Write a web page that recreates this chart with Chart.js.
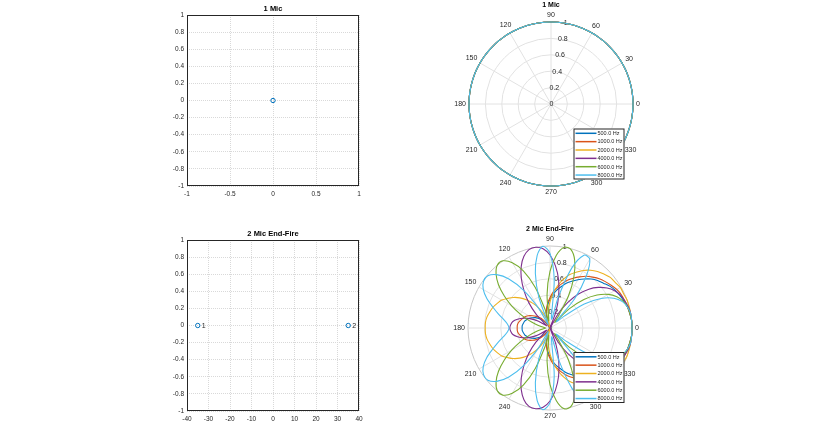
<!DOCTYPE html>
<html>
<head>
<meta charset="utf-8">
<script src="https://cdn.jsdelivr.net/npm/chart.js@4.4.1/dist/chart.umd.min.js"></script>
<style>
  html, body { margin: 0; padding: 0; background: #fff; }
  body { width: 814px; height: 434px; position: relative; overflow: hidden; }
  canvas { position: absolute; }
</style>
</head>
<body>
<canvas id="posOne" style="left:150px;top:0px" width="220" height="205"></canvas>
<canvas id="posTwo" style="left:150px;top:225px" width="220" height="205"></canvas>
<canvas id="polarOne" style="left:440px;top:0px" width="212" height="212"></canvas>
<canvas id="polarTwo" style="left:440px;top:222px" width="212" height="212"></canvas>
<script>
const TEXT = '#262626';
const GRID = '#e2e2e2';
const FONT = '"Liberation Sans", Arial, sans-serif';

// microphone positions (mm)
const mic1X = [0];
const mic1Y = [0];
const mic2X = [-35, 35];
const mic2Y = [0, 0];
const mic2Names = ['1', '2'];

const freqLabels = ['500.0 Hz', '1000.0 Hz', '2000.0 Hz', '4000.0 Hz', '6000.0 Hz', '8000.0 Hz'];
const freqColors = ['#0072BD', '#D95319', '#EDB120', '#7E2F8E', '#77AC30', '#4DBEEE'];

const rTicks = [0, 0.2, 0.4, 0.6, 0.8, 1];
const thetaTicks = [0, 30, 60, 90, 120, 150, 180, 210, 240, 270, 300, 330];

// polar angles (deg) of the pattern samples
const thetaDeg = [0, 5, 10, 15, 20, 25, 30, 35, 40, 45, 50, 55, 60, 65, 70, 75, 80, 85,
  90, 95, 100, 105, 110, 115, 120, 125, 130, 135, 140, 145, 150, 155, 160, 165, 170, 175,
  180, 185, 190, 195, 200, 205, 210, 215, 220, 225, 230, 235, 240, 245, 250, 255, 260, 265,
  270, 275, 280, 285, 290, 295, 300, 305, 310, 315, 320, 325, 330, 335, 340, 345, 350, 355];

// single mic: omni, same for every frequency
const oneMicR = [1, 1, 1, 1, 1, 1, 1, 1, 1, 1, 1, 1, 1, 1, 1, 1, 1, 1,
  1, 1, 1, 1, 1, 1, 1, 1, 1, 1, 1, 1, 1, 1, 1, 1, 1, 1,
  1, 1, 1, 1, 1, 1, 1, 1, 1, 1, 1, 1, 1, 1, 1, 1, 1, 1,
  1, 1, 1, 1, 1, 1, 1, 1, 1, 1, 1, 1, 1, 1, 1, 1, 1, 1];

// end-fire pair, magnitude per angle
const ef500 = [1.00, 1.00, 0.99, 0.98, 0.96, 0.94, 0.92, 0.89, 0.85, 0.82, 0.78, 0.73, 0.68, 0.63, 0.58, 0.52, 0.47, 0.41,
  0.35, 0.29, 0.23, 0.17, 0.11, 0.06, 0.00, 0.05, 0.09, 0.14, 0.18, 0.22, 0.25, 0.28, 0.30, 0.32, 0.33, 0.34,
  0.34, 0.34, 0.33, 0.32, 0.30, 0.28, 0.25, 0.22, 0.18, 0.14, 0.09, 0.05, 0.00, 0.06, 0.11, 0.17, 0.23, 0.29,
  0.35, 0.41, 0.47, 0.52, 0.58, 0.63, 0.68, 0.73, 0.78, 0.82, 0.85, 0.89, 0.92, 0.94, 0.96, 0.98, 0.99, 1.00];
const ef1000 = [1.00, 1.00, 0.99, 0.98, 0.97, 0.96, 0.94, 0.91, 0.88, 0.85, 0.81, 0.77, 0.72, 0.67, 0.62, 0.56, 0.50, 0.44,
  0.37, 0.31, 0.24, 0.18, 0.11, 0.05, 0.01, 0.07, 0.13, 0.18, 0.22, 0.26, 0.30, 0.33, 0.35, 0.37, 0.39, 0.40,
  0.40, 0.40, 0.39, 0.37, 0.35, 0.33, 0.30, 0.26, 0.22, 0.18, 0.13, 0.07, 0.01, 0.05, 0.11, 0.18, 0.24, 0.31,
  0.37, 0.44, 0.50, 0.56, 0.62, 0.67, 0.72, 0.77, 0.81, 0.85, 0.88, 0.91, 0.94, 0.96, 0.97, 0.98, 0.99, 1.00];
const ef2000 = [1.00, 1.00, 1.00, 1.00, 1.00, 0.99, 0.99, 0.97, 0.96, 0.93, 0.90, 0.86, 0.81, 0.75, 0.69, 0.61, 0.52, 0.42,
  0.32, 0.22, 0.12, 0.01, 0.09, 0.19, 0.29, 0.37, 0.45, 0.52, 0.58, 0.63, 0.68, 0.71, 0.74, 0.76, 0.78, 0.79,
  0.79, 0.79, 0.78, 0.76, 0.74, 0.71, 0.68, 0.63, 0.58, 0.52, 0.45, 0.37, 0.29, 0.19, 0.09, 0.01, 0.12, 0.22,
  0.32, 0.42, 0.52, 0.61, 0.69, 0.75, 0.81, 0.86, 0.90, 0.93, 0.96, 0.97, 0.99, 0.99, 1.00, 1.00, 1.00, 1.00];
const ef4000 = [1.00, 1.00, 1.00, 0.99, 0.97, 0.95, 0.91, 0.85, 0.77, 0.67, 0.54, 0.38, 0.20, 0.00, 0.21, 0.41, 0.60, 0.76,
  0.89, 0.97, 1.00, 0.99, 0.93, 0.83, 0.70, 0.55, 0.40, 0.24, 0.09, 0.05, 0.17, 0.27, 0.35, 0.41, 0.46, 0.48,
  0.49, 0.48, 0.46, 0.41, 0.35, 0.27, 0.17, 0.05, 0.09, 0.24, 0.40, 0.55, 0.70, 0.83, 0.93, 0.99, 1.00, 0.97,
  0.89, 0.76, 0.60, 0.41, 0.21, 0.00, 0.20, 0.38, 0.54, 0.67, 0.77, 0.85, 0.91, 0.95, 0.97, 0.99, 1.00, 1.00];
const ef6000 = [1.00, 1.00, 0.99, 0.98, 0.95, 0.90, 0.82, 0.70, 0.54, 0.33, 0.09, 0.18, 0.45, 0.69, 0.88, 0.99, 1.00, 0.89,
  0.69, 0.41, 0.09, 0.24, 0.53, 0.77, 0.92, 1.00, 1.00, 0.93, 0.82, 0.68, 0.54, 0.40, 0.28, 0.18, 0.11, 0.07,
  0.05, 0.07, 0.11, 0.18, 0.28, 0.40, 0.54, 0.68, 0.82, 0.93, 1.00, 1.00, 0.92, 0.77, 0.53, 0.24, 0.09, 0.41,
  0.69, 0.89, 1.00, 0.99, 0.88, 0.69, 0.45, 0.18, 0.09, 0.33, 0.54, 0.70, 0.82, 0.90, 0.95, 0.98, 0.99, 1.00];
const ef8000 = [1.00, 1.00, 1.00, 0.98, 0.94, 0.86, 0.72, 0.51, 0.22, 0.11, 0.47, 0.77, 0.97, 0.98, 0.78, 0.39, 0.11, 0.59,
  0.91, 1.00, 0.90, 0.69, 0.40, 0.05, 0.28, 0.56, 0.78, 0.92, 0.99, 0.99, 0.94, 0.85, 0.74, 0.65, 0.57, 0.52,
  0.50, 0.52, 0.57, 0.65, 0.74, 0.85, 0.94, 0.99, 0.99, 0.92, 0.78, 0.56, 0.28, 0.05, 0.40, 0.69, 0.90, 1.00,
  0.91, 0.59, 0.11, 0.39, 0.78, 0.98, 0.97, 0.77, 0.47, 0.11, 0.22, 0.51, 0.72, 0.86, 0.94, 0.98, 1.00, 1.00];

Chart.defaults.font.family = FONT;
Chart.defaults.color = TEXT;

// box, title and mic numbers for the position plots
const axesBox = {
  id: 'axesBox',
  afterDatasetsDraw(chart, args, opts) {
    if (!opts.names) return;
    const ctx = chart.ctx;
    ctx.save();
    ctx.font = '7px ' + FONT;
    ctx.fillStyle = TEXT;
    ctx.textBaseline = 'middle';
    chart.getDatasetMeta(0).data.forEach((pt, i) => {
      ctx.fillText(opts.names[i], pt.x + 4, pt.y + 0.5);
    });
    ctx.restore();
  },
  afterDraw(chart, args, opts) {
    const {ctx, chartArea: a} = chart;
    ctx.save();
    ctx.strokeStyle = TEXT;
    ctx.lineWidth = 1;
    ctx.strokeRect(a.left + 0.5, a.top + 0.5, a.right - a.left - 1, a.bottom - a.top - 1);
    ctx.fillStyle = '#000';
    ctx.font = 'bold 7.5px ' + FONT;
    ctx.textAlign = 'center';
    ctx.textBaseline = 'middle';
    ctx.fillText(opts.title, (a.left + a.right) / 2, 8.5);
    ctx.restore();
  }
};

const plainTick = v => String(Number(v.toFixed(2)));

function posChart(id, title, xs, ys, names, xMin, xMax, xStep) {
  const pts = xs.map((x, i) => ({x: x, y: ys[i]}));
  const tickFont = {size: 6.5, family: FONT};
  return new Chart(document.getElementById(id), {
    type: 'scatter',
    data: {
      datasets: [{
        data: pts,
        pointRadius: 2.2,
        pointHoverRadius: 2.2,
        pointBorderWidth: 1,
        borderColor: freqColors[0],
        backgroundColor: 'rgba(0,0,0,0)'
      }]
    },
    options: {
      responsive: false,
      animation: false,
      events: [],
      layout: {padding: {top: 15, right: 11, left: 0, bottom: 0}},
      plugins: {
        legend: {display: false},
        tooltip: {enabled: false},
        axesBox: {title: title, names: names}
      },
      scales: {
        x: {
          type: 'linear', min: xMin, max: xMax,
          ticks: {stepSize: xStep, padding: 4, maxRotation: 0, autoSkip: false, font: tickFont, color: TEXT, callback: plainTick},
          grid: {color: '#d9d9d9', lineWidth: 1, drawTicks: false},
          border: {display: false, dash: [1, 1]},
          afterFit: s => { s.height = 19; }
        },
        y: {
          type: 'linear', min: -1, max: 1,
          ticks: {stepSize: 0.2, padding: 3, autoSkip: false, font: tickFont, color: TEXT, callback: plainTick},
          grid: {color: '#d9d9d9', lineWidth: 1, drawTicks: false},
          border: {display: false, dash: [1, 1]},
          afterFit: s => { s.width = 37; }
        }
      }
    },
    plugins: [axesBox]
  });
}

// title, r/theta labels and legend for the polar plots
const polarDeco = {
  id: 'polarDeco',
  beforeDatasetsDraw(chart) {
    const r = chart.scales.r;
    const ctx = chart.ctx;
    const idx = chart.data.labels.indexOf(80);
    ctx.save();
    ctx.font = '7px ' + FONT;
    ctx.fillStyle = TEXT;
    ctx.textAlign = 'center';
    ctx.textBaseline = 'middle';
    rTicks.forEach(v => {
      const p = r.getPointPosition(idx, r.getDistanceFromCenterForValue(v));
      ctx.fillText(String(v), p.x + 0.5, p.y);
    });
    ctx.restore();
  },
  afterDraw(chart, args, opts) {
    const r = chart.scales.r;
    const ctx = chart.ctx;
    ctx.save();
    ctx.font = '7px ' + FONT;
    ctx.fillStyle = TEXT;
    ctx.textAlign = 'center';
    ctx.textBaseline = 'middle';
    thetaTicks.forEach(a => {
      const rad = a * Math.PI / 180;
      const txt = String(a);
      const w = ctx.measureText(txt).width;
      const d = r.drawingArea + 3 + Math.abs(Math.cos(rad)) * w / 2 + Math.abs(Math.sin(rad)) * 3.5;
      const p = r.getPointPosition(chart.data.labels.indexOf(a), d);
      ctx.fillText(txt, p.x, p.y);
    });

    ctx.fillStyle = '#000';
    ctx.font = 'bold 7px ' + FONT;
    ctx.fillText(opts.title, r.xCenter, opts.titleY);

    // legend
    const bx = opts.legendX, by = opts.legendY, bw = 51, bh = 51;
    ctx.fillStyle = '#fff';
    ctx.fillRect(bx, by, bw, bh);
    ctx.strokeStyle = TEXT;
    ctx.lineWidth = 1;
    ctx.strokeRect(bx + 0.5, by + 0.5, bw - 1, bh - 1);
    ctx.font = '5.5px ' + FONT;
    ctx.textAlign = 'left';
    chart.data.datasets.forEach((ds, i) => {
      const y = by + 4.8 + i * 8.35;
      ctx.strokeStyle = ds.borderColor;
      ctx.lineWidth = 1.5;
      ctx.beginPath();
      ctx.moveTo(bx + 2, y);
      ctx.lineTo(bx + 23, y);
      ctx.stroke();
      ctx.fillStyle = TEXT;
      ctx.fillText(ds.label, bx + 24, y + 0.3);
    });
    ctx.restore();
  }
};

function polarChart(id, title, seriesList, padding, titleY, legendX, legendY) {
  // radar runs clockwise from the right, polar angles run counter-clockwise
  const n = thetaDeg.length;
  const order = thetaDeg.map((_, i) => (n - i) % n);
  return new Chart(document.getElementById(id), {
    type: 'radar',
    data: {
      labels: order.map(k => thetaDeg[k]),
      datasets: seriesList.map((vals, j) => ({
        label: freqLabels[j],
        data: order.map(k => vals[k]),
        borderColor: freqColors[j],
        borderWidth: 1.1,
        pointRadius: 0,
        pointHoverRadius: 0,
        fill: false,
        tension: 0.3,
        clip: false,
        order: seriesList.length - j
      }))
    },
    options: {
      responsive: false,
      animation: false,
      events: [],
      layout: {padding: padding},
      plugins: {
        legend: {display: false},
        tooltip: {enabled: false},
        polarDeco: {title: title, titleY: titleY, legendX: legendX, legendY: legendY}
      },
      scales: {
        r: {
          min: 0, max: 1,
          startAngle: 90,
          ticks: {display: false, stepSize: 0.2},
          pointLabels: {display: false},
          grid: {
            circular: true,
            lineWidth: 1,
            color: c => (c.tick && c.tick.value === 1 ? '#c8c8c8' : GRID)
          },
          angleLines: {
            color: GRID,
            lineWidth: c => (c.index % 6 === 0 ? 1 : 0)
          }
        }
      }
    },
    plugins: [polarDeco]
  });
}

posChart('posOne', '1 Mic', mic1X, mic1Y, null, -1, 1, 0.5);
posChart('posTwo', '2 Mic End-Fire', mic2X, mic2Y, mic2Names, -40, 40, 10);

polarChart('polarOne', '1 Mic',
  [oneMicR, oneMicR, oneMicR, oneMicR, oneMicR, oneMicR],
  {left: 29, top: 22, right: 19, bottom: 26}, 5.5, 133.5, 128.5);
polarChart('polarTwo', '2 Mic End-Fire',
  [ef500, ef1000, ef2000, ef4000, ef6000, ef8000],
  {left: 28, top: 24, right: 20, bottom: 24}, 6.8, 133.5, 130);
</script>
</body>
</html>
